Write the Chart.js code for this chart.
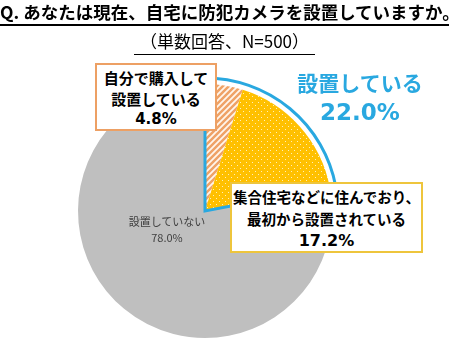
<!DOCTYPE html>
<html lang="ja">
<head>
<meta charset="utf-8">
<script src="https://cdn.jsdelivr.net/npm/chart.js@4.4.1/dist/chart.umd.min.js"></script>
<style>
  html, body { margin: 0; padding: 0; background: #fff; }
  body { width: 449px; height: 348px; position: relative; overflow: hidden;
         font-family: "Noto Sans CJK JP", "Noto Sans", sans-serif; color: #000; }
  #chart { position: absolute; left: 0; top: 0; }
  .title { position: absolute; left: 0; width: 449px; text-align: center; white-space: nowrap; }
  #t1 { top: 0px; font-size: 17.5px; font-weight: bold; line-height: 24px; }
  #t1 span { border-bottom: 2px solid #000; }
  #t2 { top: 29px; font-size: 17px; line-height: 24px; }
  #t2 span { border-bottom: 1.5px solid #000; padding: 0 6px 1px 6px; }
  .box { position: absolute; background: #fff; text-align: center; font-weight: bold;
         box-sizing: border-box; white-space: nowrap; }
  .pct { font-family: "DejaVu Sans", sans-serif; }
  #boxOwn { left: 95px; top: 63px; width: 122px; height: 68px; border: 2px solid #EDA064;
            font-size: 15px; line-height: 21px; padding-top: 2px; }
  #boxOwn .pct { font-size: 15px; }
  #boxBuilt { left: 230px; top: 182px; width: 193px; height: 71px; border: 2px solid #EEC53C;
              font-size: 14.5px; line-height: 22px; padding-top: 2px; }
  #boxBuilt .pct { font-size: 16px; }
  #lblInstalled { position: absolute; left: 280px; top: 67px; width: 160px; text-align: center;
                  color: #29A8E0; font-weight: bold; font-size: 21px; line-height: 30px; }
  #lblInstalled .pct { font-size: 23px; }
  #lblNone { position: absolute; left: 117px; top: 213px; width: 100px; text-align: center;
             color: #404040; font-size: 11px; line-height: 16px; }
  #lblNone .pct { font-family: inherit; }
</style>
</head>
<body>
<canvas id="chart" width="449" height="348"></canvas>
<div class="title" id="t1"><span>Q. あなたは現在、自宅に防犯カメラを設置していますか。</span></div>
<div class="title" id="t2"><span>（単数回答、N=500）</span></div>
<div id="lblInstalled"></div>
<div class="box" id="boxOwn"></div>
<div class="box" id="boxBuilt"></div>
<div id="lblNone"></div>
<script>
// data
const categories = ["自分で購入して設置している", "集合住宅などに住んでおり、最初から設置されている", "設置していない"];
const shares = [4.8, 17.2, 78.0];
const labelLines = [
    ["自分で購入して", "設置している"],
    ["集合住宅などに住んでおり、", "最初から設置されている"],
    ["設置していない"]
];
const groupLabel = "設置している";
const groupShare = shares[0] + shares[1];

const fmt = (v) => v.toFixed(1) + "%";

// fill in the text labels
function fillLabel(id, lines, value) {
    const el = document.getElementById(id);
    lines.forEach((t) => {
        const d = document.createElement("div");
        d.textContent = t;
        el.appendChild(d);
    });
    const p = document.createElement("div");
    p.className = "pct";
    p.textContent = fmt(value);
    el.appendChild(p);
}
fillLabel("boxOwn", labelLines[0], shares[0]);
fillLabel("boxBuilt", labelLines[1], shares[1]);
fillLabel("lblNone", labelLines[2], shares[2]);
fillLabel("lblInstalled", [groupLabel], groupShare);

// patterns
function hatchPattern(ctx) {
    const c = document.createElement("canvas");
    c.width = 6; c.height = 6;
    const g = c.getContext("2d");
    g.fillStyle = "#EFA266";
    g.fillRect(0, 0, 6, 6);
    g.strokeStyle = "#FFF6EC";
    g.lineWidth = 1.8;
    g.beginPath();
    g.moveTo(-1, 7); g.lineTo(7, -1);
    g.moveTo(-4, 4); g.lineTo(4, -4);
    g.moveTo(2, 10); g.lineTo(10, 2);
    g.stroke();
    return ctx.createPattern(c, "repeat");
}

function dotPattern(ctx) {
    const c = document.createElement("canvas");
    c.width = 6; c.height = 6;
    const g = c.getContext("2d");
    g.fillStyle = "#FFC000";
    g.fillRect(0, 0, 6, 6);
    g.fillStyle = "#FFF0B8";
    g.fillRect(0, 0, 1, 1);
    g.fillRect(3, 3, 1, 1);
    return ctx.createPattern(c, "repeat");
}

// blue outline round the "installed" slices
const outlinePlugin = {
    id: "installedOutline",
    afterDatasetsDraw(chart) {
        const arcs = chart.getDatasetMeta(0).data;
        const a = arcs[0], b = arcs[1];
        const r = a.outerRadius + 6;
        const c = chart.ctx;
        c.save();
        c.strokeStyle = "#29A8E0";
        c.lineWidth = 3;
        c.beginPath();
        c.moveTo(a.x, a.y);
        c.lineTo(a.x + r * Math.cos(a.startAngle), a.y + r * Math.sin(a.startAngle));
        c.arc(a.x, a.y, r, a.startAngle, b.endAngle);
        c.closePath();
        c.stroke();
        c.restore();
    }
};

const canvas = document.getElementById("chart");
const ctx = canvas.getContext("2d");

new Chart(canvas, {
    type: "pie",
    data: {
        labels: categories,
        datasets: [{
            data: shares,
            backgroundColor: [hatchPattern(ctx), dotPattern(ctx), "#BFBFBF"],
            borderWidth: 0
        }]
    },
    options: {
        responsive: false,
        animation: false,
        layout: { padding: { left: 78, right: 117, top: 84, bottom: 10 } },
        plugins: {
            legend: { display: false },
            tooltip: { enabled: false }
        }
    },
    plugins: [outlinePlugin]
});
</script>
</body>
</html>
